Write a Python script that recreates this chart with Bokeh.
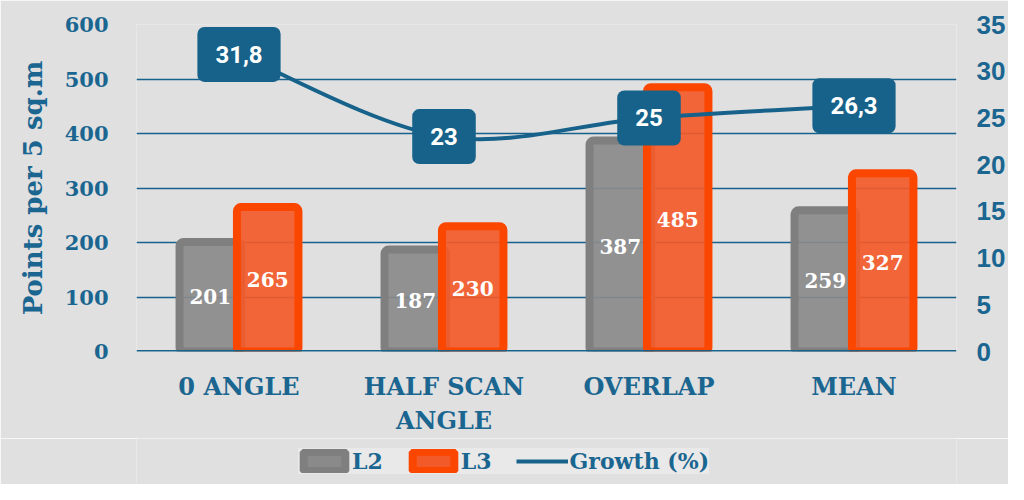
import numpy as np
from bokeh.plotting import figure
from bokeh.layouts import column
from bokeh.models import Range1d, LinearAxis, FixedTicker, Legend, LegendItem, Span
from bokeh.core.properties import value
from bokeh.embed import file_html
from bokeh.resources import INLINE

categories = ["0 ANGLE", "HALF SCAN\nANGLE", "OVERLAP", "MEAN"]
l2 = [201, 187, 387, 259]
l3 = [265, 230, 485, 327]
growth = [31.8, 23, 25, 26.3]
y_ticks = [0, 100, 200, 300, 400, 500, 600]
y2_ticks = [0, 5, 10, 15, 20, 25, 30, 35]
series_names = ["L2", "L3", "Growth (%)"]

BLUE = "#17628a"
TXT = "#1a6690"
SLAB = "DejaVu Serif"
BG = "#e0e0e0"
GRAY_FILL, GRAY_LINE = "#8a8a8a", "#7f7f7f"
ORNG_FILL, ORNG_LINE = "#f35a2a", "#fb4600"


def bare_axis(ax):
    ax.axis_line_color = None
    ax.major_tick_line_color = None
    ax.minor_tick_line_color = None
    ax.major_tick_out = 0
    ax.major_tick_in = 0
    ax.minor_tick_out = 0
    ax.minor_tick_in = 0
    ax.major_label_text_color = TXT
    ax.major_label_text_font_style = "bold"


p = figure(width=1008, height=438, x_range=Range1d(0, len(categories)),
           y_range=Range1d(0, 600), output_backend="svg", toolbar_location=None,
           min_border_left=136, min_border_right=50, min_border_top=24,
           min_border_bottom=85)
p.background_fill_color = BG
p.border_fill_color = BG
p.outline_line_color = None

p.xgrid.grid_line_color = None
p.ygrid.grid_line_color = BLUE
p.ygrid.grid_line_width = 1.5

p.yaxis.ticker = FixedTicker(ticks=y_ticks)
bare_axis(p.yaxis[0])
p.yaxis.major_label_text_font = SLAB
p.yaxis.major_label_text_font_size = "21px"
p.yaxis.major_label_standoff = 28
p.yaxis.axis_label = "Points per 5 sq.m"
p.yaxis.axis_label_text_font = SLAB
p.yaxis.axis_label_text_font_style = "bold"
p.yaxis.axis_label_text_font_size = "26px"
p.yaxis.axis_label_text_color = TXT
p.yaxis.axis_label_standoff = 14

xs = np.arange(len(categories)) + 0.5
p.xaxis.ticker = FixedTicker(ticks=list(xs))
p.xaxis.major_label_overrides = {float(x): c for x, c in zip(xs, categories)}
bare_axis(p.xaxis[0])
p.xaxis.major_label_text_font = SLAB
p.xaxis.major_label_text_font_size = "24px"
p.xaxis.major_label_standoff = 20

p.extra_y_ranges = {"g": Range1d(0, 35)}
ax2 = LinearAxis(y_range_name="g", ticker=FixedTicker(ticks=y2_ticks))
bare_axis(ax2)
ax2.major_label_text_font = "Liberation Sans"
ax2.major_label_text_font_size = "26px"
ax2.major_label_standoff = 20
p.add_layout(ax2, "right")

p.vbar(x=xs - 0.14, top=l2, bottom=0, width=0.3, fill_color=GRAY_FILL,
       fill_alpha=0.92, line_color=GRAY_LINE, line_width=8, border_radius=4)
p.vbar(x=xs + 0.14, top=l3, bottom=0, width=0.3, fill_color=ORNG_FILL,
       fill_alpha=0.92, line_color=ORNG_LINE, line_width=8, border_radius=4)

p.add_layout(Span(location=0, dimension="width", line_color=BLUE, line_width=3))

for off, vals in ((-0.14, l2), (0.14, l3)):
    p.text(x=xs + off, y=[v / 2 for v in vals], text=[str(v) for v in vals],
           text_align="center", text_baseline="middle", text_color="white",
           text_font=value(SLAB), text_font_style="bold", text_font_size="20px")

# smooth growth curve (Catmull-Rom converted to cubic Bezier segments)
P = list(zip(xs, growth))
x0s, y0s, x1s, y1s, cx0, cy0, cx1, cy1 = ([] for _ in range(8))
for i in range(len(P) - 1):
    pm = P[i - 1] if i > 0 else P[i]
    pa, pb = P[i], P[i + 1]
    pn = P[i + 2] if i + 2 < len(P) else P[i + 1]
    x0s.append(pa[0]); y0s.append(pa[1]); x1s.append(pb[0]); y1s.append(pb[1])
    cx0.append(pa[0] + (pb[0] - pm[0]) / 6); cy0.append(pa[1] + (pb[1] - pm[1]) / 6)
    cx1.append(pb[0] - (pn[0] - pa[0]) / 6); cy1.append(pb[1] - (pn[1] - pa[1]) / 6)
p.bezier(x0=x0s, y0=y0s, x1=x1s, y1=y1s, cx0=cx0, cy0=cy0, cx1=cx1, cy1=cy1,
         line_color=BLUE, line_width=4, y_range_name="g")

glabels = [("%g" % g).replace(".", ",") for g in growth]
p.text(x=xs, y=growth, text=glabels, y_range_name="g", text_align="center",
       text_baseline="middle", text_color="white", text_font=value("Roboto"),
       text_font_style="bold", text_font_size="24px",
       background_fill_color=BLUE, border_radius=7, padding=(18, 19))

# legend strip below the chart (key glyphs carry no drawable data)
nan = float("nan")
lg = figure(width=1008, height=46, x_range=Range1d(0, 1), y_range=Range1d(0, 1),
            output_backend="svg", toolbar_location=None, min_border=0)
lg.axis.visible = False
lg.grid.grid_line_color = None
lg.outline_line_color = None
lg.background_fill_color = BG
lg.border_fill_color = BG
k2 = lg.vbar(x=[nan], top=[nan], bottom=[nan], width=0.1, fill_color=GRAY_FILL,
             line_color=GRAY_LINE, line_width=8, border_radius=4)
k3 = lg.vbar(x=[nan], top=[nan], bottom=[nan], width=0.1, fill_color=ORNG_FILL,
             line_color=ORNG_LINE, line_width=8, border_radius=4)
kg = lg.line(x=[nan, nan], y=[nan, nan], line_color=BLUE, line_width=4)

legend = Legend(items=[LegendItem(label=n, renderers=[r], index=0)
                       for n, r in zip(series_names, (k2, k3, kg))],
                location=(162, 10), orientation="horizontal")
legend.background_fill_color = "#e9e9e9"
legend.background_fill_alpha = 1
legend.border_line_color = None
legend.label_text_font = SLAB
legend.label_text_font_style = "bold"
legend.label_text_font_size = "22px"
legend.label_text_color = TXT
legend.glyph_width = 52
legend.glyph_height = 24
legend.spacing = 24
legend.padding = 12
legend.margin = 0
legend.label_standoff = 2
lg.add_layout(legend, "center")

open("out.html", "w").write(file_html(column(p, lg, spacing=0), INLINE))
